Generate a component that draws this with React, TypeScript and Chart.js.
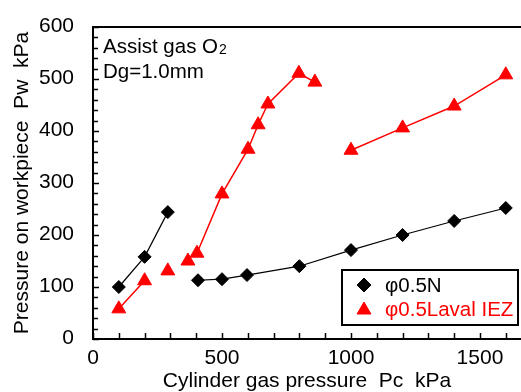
import React, { useEffect, useRef } from "react";
import { Chart, registerables } from "chart.js";

Chart.register(...registerables);

// φ0.5N series (null = break in the line)
const nX = [100, 200, 290, 350, 407, 500, 597, 800, 1000, 1200, 1400, 1600];
const nY = [100, 158, 244, null, 113, 115, 123, 140, 171, 200, 227, 252];

// φ0.5Laval IEZ series
const lX = [100, 200, 245, 290, 330, 368, 385, 403, 500, 601, 640, 678, 798, 860, 930, 1000, 1200, 1400, 1600];
const lY = [58, 112, null, 131, null, 150, null, 165, 279, 365, 412, 452, 511, 494, null, 363, 406, 448, 508];

const xTickLabels = [0, 500, 1000, 1500];
const yTickLabels = [0, 100, 200, 300, 400, 500, 600];

const legendLabels = ["φ0.5N", "φ0.5Laval IEZ"];
const annotLines = ["Assist gas O", "Dg=1.0mm"];

const FONT = "'Liberation Sans', Arial, sans-serif";
const RED = "#ff0000";

function drawMarker(ctx: CanvasRenderingContext2D, style: string, x: number, y: number, r: number, color: string) {
  ctx.save();
  ctx.fillStyle = color;
  ctx.strokeStyle = color;
  ctx.lineWidth = 1;
  ctx.beginPath();
  if (style === "rectRot") {
    ctx.moveTo(x, y - r);
    ctx.lineTo(x + r, y);
    ctx.lineTo(x, y + r);
    ctx.lineTo(x - r, y);
  } else {
    for (let k = 0; k < 3; k++) {
      const a = (k * 2 * Math.PI) / 3;
      const px = x + Math.sin(a) * r;
      const py = y - Math.cos(a) * r;
      if (k === 0) ctx.moveTo(px, py);
      else ctx.lineTo(px, py);
    }
  }
  ctx.closePath();
  ctx.fill();
  ctx.stroke();
  ctx.restore();
}

export default function App() {
  const ref = useRef<HTMLCanvasElement>(null);

  useEffect(() => {
    document.body.style.margin = "0";
    const canvas = ref.current!;
    const extras = {
      id: "extras",
      afterDatasetsDraw(chart: any) {
        const ctx = chart.ctx;
        const xs = chart.scales.x;
        const ys = chart.scales.y;
        const area = chart.chartArea;
        ctx.save();
        // top frame line
        ctx.strokeStyle = "#000";
        ctx.lineWidth = 2;
        ctx.beginPath();
        ctx.moveTo(area.left - 1, area.top);
        ctx.lineTo(area.right, area.top);
        ctx.stroke();
        // inner ticks x
        ctx.lineWidth = 1.5;
        for (let v = 0; v <= 1600; v += 100) {
          const px = Math.round(xs.getPixelForValue(v)) + 0.5;
          ctx.beginPath();
          ctx.moveTo(px, area.bottom);
          ctx.lineTo(px, area.bottom - 6);
          ctx.stroke();
        }
        // inner ticks y
        for (let v = 0; v <= 600; v += 20) {
          const py = Math.round(ys.getPixelForValue(v)) + 0.5;
          const len = v % 100 === 0 ? 6 : 5;
          ctx.beginPath();
          ctx.moveTo(area.left, py);
          ctx.lineTo(area.left + len, py);
          ctx.stroke();
        }
        // annotation text
        ctx.fillStyle = "#000";
        ctx.textBaseline = "alphabetic";
        ctx.textAlign = "left";
        ctx.font = `20.5px ${FONT}`;
        ctx.fillText(annotLines[0], 103, 53);
        const w = ctx.measureText(annotLines[0]).width;
        ctx.font = `14px ${FONT}`;
        ctx.fillText("2", 103 + w + 1, 54);
        ctx.font = `20.5px ${FONT}`;
        ctx.fillText(annotLines[1], 103, 78);

        // legend box
        ctx.lineWidth = 2;
        ctx.strokeStyle = "#000";
        ctx.fillStyle = "#fff";
        ctx.fillRect(342, 270, 176, 55);
        ctx.strokeRect(342, 270, 176, 55);
        const ds = chart.data.datasets;
        const rows = [285, 309];
        for (let i = 0; i < 2; i++) {
          const d = ds[i];
          drawMarker(ctx, d.pointStyle, 364, rows[i] + (i === 1 ? 1 : 0), i === 0 ? 7 : 8, d.pointBackgroundColor);
          ctx.fillStyle = i === 0 ? "#000" : RED;
          ctx.font = `20.5px ${FONT}`;
          ctx.textBaseline = "middle";
          ctx.textAlign = "left";
          ctx.fillText(legendLabels[i], 385, rows[i] + 1);
        }
        ctx.restore();
      },
    };

    const chart = new Chart(canvas, {
      type: "line",
      data: {
        datasets: [
          {
            label: legendLabels[0],
            data: nX.map((x, i) => ({ x, y: nY[i] })),
            borderColor: "#000",
            borderWidth: 1.2,
            pointStyle: "rectRot",
            pointRadius: 6.5,
            pointBackgroundColor: "#000",
            pointBorderColor: "#000",
            pointBorderWidth: 1,
            spanGaps: false,
          },
          {
            label: legendLabels[1],
            data: lX.map((x, i) => ({ x, y: lY[i] })),
            borderColor: RED,
            borderWidth: 1.5,
            pointStyle: "triangle",
            pointRadius: 8,
            pointBackgroundColor: RED,
            pointBorderColor: RED,
            pointBorderWidth: 1,
            spanGaps: false,
          },
        ] as any,
      },
      options: {
        animation: false,
        responsive: false,
        layout: { autoPadding: false, padding: { top: 27, right: 0, left: 0, bottom: 0 } },
        plugins: { legend: { display: false }, tooltip: { enabled: false } },
        scales: {
          x: {
            type: "linear",
            min: 0,
            max: 1659,
            grid: { display: false },
            border: { display: true, color: "#000", width: 2 },
            afterBuildTicks: (s: any) => {
              s.ticks = xTickLabels.map((v) => ({ value: v }));
            },
            afterFit: (s: any) => {
              s.height = 53;
            },
            ticks: {
              color: "#000",
              font: { family: FONT, size: 21 },
              padding: -1,
              maxRotation: 0,
              callback: (v: any) => String(v),
            },
            title: {
              display: true,
              text: "Cylinder gas pressure  Pc  kPa",
              color: "#000",
              font: { family: FONT, size: 21, lineHeight: 1 },
              padding: 0,
            },
          },
          y: {
            type: "linear",
            min: 0,
            max: 600,
            grid: { display: false },
            border: { display: true, color: "#000", width: 2 },
            afterBuildTicks: (s: any) => {
              s.ticks = yTickLabels.map((v) => ({ value: v }));
            },
            afterFit: (s: any) => {
              s.width = 93;
            },
            ticks: {
              color: "#000",
              font: { family: FONT, size: 21 },
              padding: 11,
              labelOffset: -1,
              callback: (v: any) => String(v),
            },
            title: {
              display: true,
              text: "Pressure on workpiece  Pw  kPa",
              color: "#000",
              font: { family: FONT, size: 21 },
              padding: { top: 10, bottom: 0 },
            },
          },
        },
      },
      plugins: [extras],
    } as any);
    return () => chart.destroy();
  }, []);

  return (
    <div style={{ width: 521, height: 392 }}>
      <canvas ref={ref} width={521} height={392} style={{ width: 521, height: 392, display: "block" }} />
    </div>
  );
}
